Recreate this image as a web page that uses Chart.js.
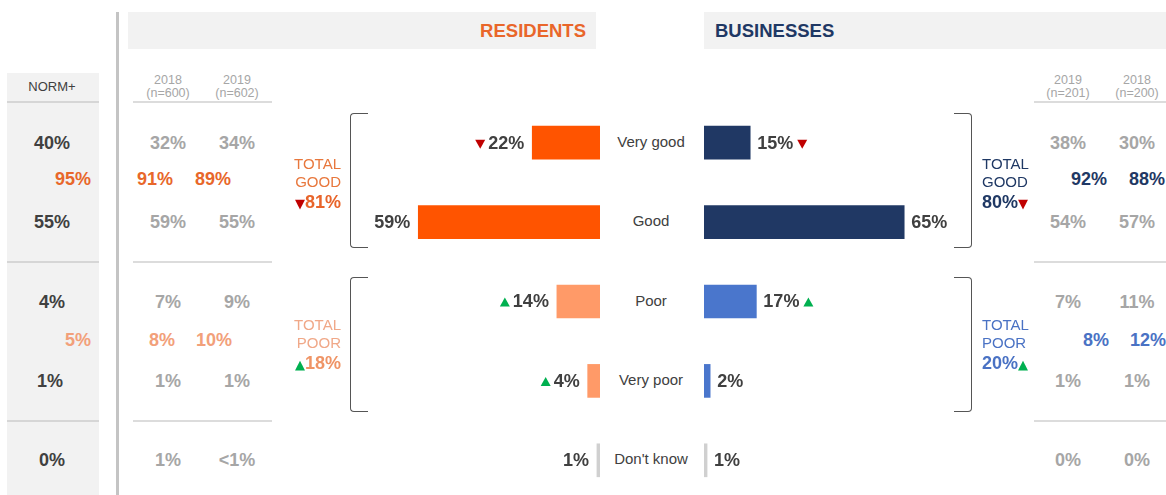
<!DOCTYPE html>
<html>
<head>
<meta charset="utf-8">
<script src="https://cdn.jsdelivr.net/npm/chart.js@4.4.1/dist/chart.umd.min.js"></script>
<style>
  body { margin: 0; width: 1166px; height: 495px; overflow: hidden; background: #fff;
         font-family: "Liberation Sans", Arial, sans-serif; position: relative; }
  .box { position: absolute; }
  .t { position: absolute; white-space: nowrap; line-height: 1; }
  canvas { position: absolute; }
</style>
</head>
<body>
<canvas id="residentsChart" width="308" height="397" style="left:292px;top:103px"></canvas>
<canvas id="businessesChart" width="308" height="397" style="left:704px;top:103px"></canvas>

<script>
// ---- data ----
const categories = ['Very good', 'Good', 'Poor', 'Very poor', "Don't know"];
const residents = [22, 59, 14, 4, 1];
const businesses = [15, 65, 17, 2, 1];
const residentsTrend = ['down', '', 'up', 'up', ''];
const businessesTrend = ['down', '', 'up', '', ''];

const resTotals = ['81%', '18%'];
const busTotals = ['80%', '20%'];
const resTotalTrend = ['down', 'up'];
const busTotalTrend = ['down', 'up'];

const normRows = ['40%', '55%', '4%', '1%', '0%'];
const normNet = ['95%', '5%'];

const leftYears = ['2018', '2019'];
const leftN = ['(n=600)', '(n=602)'];
const res2018 = ['32%', '59%', '7%', '1%', '1%'];
const res2019 = ['34%', '55%', '9%', '1%', '<1%'];
const resNet2018 = ['91%', '8%'];
const resNet2019 = ['89%', '10%'];

const rightYears = ['2019', '2018'];
const rightN = ['(n=201)', '(n=200)'];
const bus2019 = ['38%', '54%', '7%', '1%', '0%'];
const bus2018 = ['30%', '57%', '11%', '1%', '0%'];
const busNet2019 = ['92%', '8%'];
const busNet2018 = ['88%', '12%'];

// ---- helpers ----
const CANVAS_TOP = 103;

function box(x, y, w, h, css) {
  const d = document.createElement('div');
  d.className = 'box';
  d.style.cssText = `left:${x}px;top:${y}px;width:${w}px;height:${h}px;` + (css || '');
  document.body.appendChild(d);
  return d;
}

// align: 'c' centre, 'r' right edge at x, 'l' left edge at x
function txt(x, y, html, css, align) {
  const d = document.createElement('div');
  d.className = 't';
  const tx = align === 'r' ? '-100%' : align === 'l' ? '0' : '-50%';
  d.style.cssText = `left:${x}px;top:${y}px;transform:translate(${tx},-50%);` + (css || '');
  d.innerHTML = html;
  document.body.appendChild(d);
  return d;
}

const down = '<span style="color:#c00000;font-size:13px;font-family:\'DejaVu Sans\'">&#9660;</span>';
const up = '<span style="color:#00b050;font-size:13px;font-family:\'DejaVu Sans\'">&#9650;</span>';

function triangle(ctx, x, y, dir) {
  ctx.beginPath();
  if (dir === 'down') {
    ctx.fillStyle = '#c00000';
    ctx.moveTo(x, y - 4); ctx.lineTo(x + 10, y - 4); ctx.lineTo(x + 5, y + 5);
  } else {
    ctx.fillStyle = '#00b050';
    ctx.moveTo(x, y + 4); ctx.lineTo(x + 10, y + 4); ctx.lineTo(x + 5, y - 5);
  }
  ctx.closePath();
  ctx.fill();
}

const valueLabels = (trend, reverse) => ({
  id: 'valueLabels',
  afterDatasetsDraw(chart) {
    const ctx = chart.ctx;
    const meta = chart.getDatasetMeta(0);
    ctx.save();
    ctx.font = 'bold 18px "Liberation Sans", Arial, sans-serif';
    ctx.textBaseline = 'middle';
    ctx.textAlign = 'left';
    meta.data.forEach((bar, i) => {
      const label = chart.data.datasets[0].data[i] + '%';
      const w = ctx.measureText(label).width;
      const x = reverse ? bar.x - 8 - w : bar.x + 7;
      ctx.fillStyle = '#404040';
      ctx.fillText(label, x, bar.y + 1);
      if (trend[i]) triangle(ctx, reverse ? x - 13 : x + w + 4, bar.y + 1, trend[i]);
    });
    ctx.restore();
  }
});

function makeChart(id, values, colors, trend, reverse) {
  return new Chart(document.getElementById(id), {
    type: 'bar',
    data: {
      labels: categories,
      datasets: [{ data: values, backgroundColor: colors, barThickness: 33, borderWidth: 0 }]
    },
    options: {
      indexAxis: 'y',
      responsive: false,
      animation: false,
      layout: { padding: 0 },
      scales: {
        x: { display: false, min: 0, max: 100, reverse: reverse },
        y: { display: false }
      },
      plugins: { legend: { display: false }, tooltip: { enabled: false } }
    },
    plugins: [valueLabels(trend, reverse)]
  });
}

const resChart = makeChart('residentsChart', residents,
  ['#ff5400', '#ff5400', '#ff9a68', '#ff9a68', '#d0d0d0'], residentsTrend, true);
const busChart = makeChart('businessesChart', businesses,
  ['#203864', '#203864', '#4a76cc', '#4a76cc', '#d0d0d0'], businessesTrend, false);

// row centres taken from the chart's own category scale
const rowY = categories.map((c, i) => CANVAS_TOP + resChart.scales.y.getPixelForValue(i));
const netY = [(rowY[0] + rowY[1]) / 2 - 3, (rowY[2] + rowY[3]) / 2 - 1];
const bodyRows = [0, 1, 2, 3, 4];

// ---- frame ----
box(128, 12, 468, 37, 'background:#f2f2f2');
box(704, 12, 462, 37, 'background:#f2f2f2');
txt(586, 31, 'RESIDENTS', 'font-weight:bold;font-size:18.5px;color:#e9662a', 'r');
txt(715, 31, 'BUSINESSES', 'font-weight:bold;font-size:18.5px;color:#1f3864', 'l');
box(116, 12, 3, 483, 'background:#c4c4c4');

// NORM+ column
box(7, 73, 92, 422, 'background:#f2f2f2');
box(7, 101, 92, 2, 'background:#d6d6d6');
box(7, 261, 92, 2, 'background:#d6d6d6');
box(7, 420, 92, 2, 'background:#d6d6d6');
txt(52, 86, 'NORM+', 'font-size:13px;color:#404040');
const valCss = 'font-weight:bold;font-size:18px;';
bodyRows.forEach(i => txt(i === 3 ? 50 : 52, rowY[i], normRows[i], valCss + 'color:#404040'));
txt(91, netY[0], normNet[0], valCss + 'color:#e8672a', 'r');
txt(91, netY[1], normNet[1], valCss + 'color:#f2a07a', 'r');

// year tables
function yearTable(cols, years, ns, a, b, netA, netB, netX, netColors, lineX, lineW) {
  box(lineX, 101, lineW, 2, 'background:#dcdcdc');
  box(lineX, 261, lineW, 2, 'background:#dcdcdc');
  box(lineX, 420, lineW, 2, 'background:#dcdcdc');
  [a, b].forEach((col, k) => {
    txt(cols[k], 80, years[k], 'font-size:12.5px;color:#a6a6a6');
    txt(cols[k], 93, ns[k], 'font-size:12.5px;color:#a6a6a6');
    bodyRows.forEach(i => txt(cols[k], rowY[i], col[i], valCss + 'color:#a6a6a6'));
  });
  [netA, netB].forEach((col, k) => {
    col.forEach((v, j) => txt(netX[j][k], netY[j], v, valCss + 'color:' + netColors[j]));
  });
}
yearTable([168, 237], leftYears, leftN, res2018, res2019, resNet2018, resNet2019,
  [[155, 213], [162, 214]], ['#e8672a', '#f2a07a'], 133, 139);
yearTable([1068, 1137], rightYears, rightN, bus2019, bus2018, busNet2019, busNet2018,
  [[1089, 1147], [1096, 1148]], ['#1f3864', '#4a72c4'], 1034, 132);

// category labels between the two charts
categories.forEach((c, i) => txt(651, rowY[i] - 2, c, 'font-size:15px;color:#404040'));

// brackets
const brCss = 'border:1.3px solid #555;box-sizing:border-box;';
box(350, 113, 18, 135, brCss + 'border-right:none;border-radius:4px 0 0 4px');
box(350, 277, 18, 135, brCss + 'border-right:none;border-radius:4px 0 0 4px');
box(954, 113, 18, 135, brCss + 'border-left:none;border-radius:0 4px 4px 0');
box(954, 277, 18, 135, brCss + 'border-left:none;border-radius:0 4px 4px 0');

// totals
const arrow = t => (t === 'down' ? down : up);
const groups = [netY[0] + 2, netY[1] + 2];
['GOOD', 'POOR'].forEach((g, j) => {
  const y = groups[j];
  const resText = j === 0 ? '#e8773c' : '#f0a888';
  const resNum = j === 0 ? '#e8642a' : '#ef9466';
  const busCol = j === 0 ? '#1f3864' : '#4a72c4';
  txt(341, y - 18, 'TOTAL', 'font-size:15px;color:' + resText, 'r');
  txt(341, y, g, 'font-size:15px;color:' + resText, 'r');
  txt(341, y + 21, arrow(resTotalTrend[j]) + resTotals[j], valCss + 'color:' + resNum, 'r');
  txt(982, y - 18, 'TOTAL', 'font-size:15px;color:' + busCol, 'l');
  txt(982, y, g, 'font-size:15px;color:' + busCol, 'l');
  txt(982, y + 21, busTotals[j] + arrow(busTotalTrend[j]), valCss + 'color:' + busCol, 'l');
});
</script>
</body>
</html>
